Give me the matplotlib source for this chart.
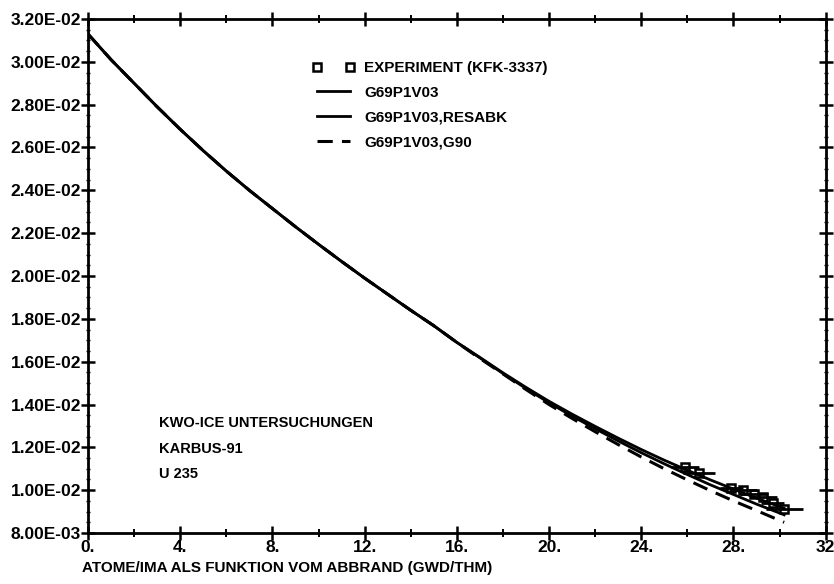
import numpy as np
import matplotlib
matplotlib.use("Agg")
import matplotlib.pyplot as plt
from matplotlib.ticker import MultipleLocator, FixedLocator

plt.rcParams['font.family'] = ['Liberation Sans', 'DejaVu Sans']
plt.rcParams['font.weight'] = 'bold'

# burnup (GWD/THM)
burnup = [0, 1, 2, 3, 4, 5, 6, 7, 8, 9, 10, 11, 12, 13, 14, 15, 16,
          17, 18, 19, 20, 21, 22, 23, 24, 25, 26, 27, 28, 29, 30.2]
g69 = [0.03130, 0.03010, 0.02900, 0.02790, 0.02685, 0.02585, 0.02490,
       0.02400, 0.02315, 0.02230, 0.02148, 0.02068, 0.01990, 0.01915,
       0.01840, 0.01768, 0.01690, 0.01620, 0.01548, 0.01480, 0.01415,
       0.01355, 0.01298, 0.01243, 0.01190, 0.01140, 0.01093, 0.01048,
       0.01005, 0.00963, 0.00915]
g69_resabk = [0.03130, 0.03010, 0.02900, 0.02790, 0.02685, 0.02585, 0.02490,
              0.02400, 0.02315, 0.02230, 0.02148, 0.02068, 0.01990, 0.01915,
              0.01840, 0.01768, 0.01690, 0.01618, 0.01545, 0.01475, 0.01408,
              0.01346, 0.01287, 0.01230, 0.01175, 0.01123, 0.01073, 0.01025,
              0.00980, 0.00935, 0.00885]
g69_g90 = [0.03130, 0.03010, 0.02900, 0.02790, 0.02685, 0.02585, 0.02490,
           0.02400, 0.02315, 0.02230, 0.02148, 0.02068, 0.01990, 0.01915,
           0.01840, 0.01768, 0.01690, 0.01615, 0.01543, 0.01470, 0.01400,
           0.01335, 0.01273, 0.01213, 0.01155, 0.01100, 0.01048, 0.00998,
           0.00950, 0.00905, 0.00850]

# experiment (KFK-3337)
exp_x = [25.9, 26.5, 27.9, 28.4, 28.9, 29.3, 29.7, 30.2]
exp_y = [0.0111, 0.0108, 0.0101, 0.0100, 0.0098, 0.0097, 0.0094, 0.0091]
exp_xerr = [0.6, 0.7, 0.5, 0.6, 0.6, 0.6, 0.5, 0.8]

xtick_vals = [0, 4, 8, 12, 16, 20, 24, 28, 32]
xtick_labels = ['0.', '4.', '8.', '12.', '16.', '20.', '24.', '28.', '32']
ytick_vals = [0.008 + 0.002 * i for i in range(13)]
ytick_labels = ['8.00E-03'] + ['%.2fE-02' % (v * 100) for v in ytick_vals[1:]]

info_lines = ['KWO-ICE UNTERSUCHUNGEN', 'KARBUS-91', 'U 235']

fig = plt.figure(figsize=(8.34, 5.84), dpi=100)
ax = fig.add_axes([0.1055, 0.0873, 0.8845, 0.8802])

ax.plot(burnup, g69, '-k', lw=2.0, label='G69P1V03')
ax.plot(burnup, g69_resabk, '-k', lw=2.0, label='G69P1V03,RESABK')
ax.plot(burnup, g69_g90, '--k', lw=2.2, dashes=(5, 3), label='G69P1V03,G90')
ax.errorbar(exp_x, exp_y, xerr=exp_xerr, fmt='none', ecolor='k',
            elinewidth=2.0, capsize=0)
ax.plot(exp_x, exp_y, 's', mfc='none', mec='k', ms=6, mew=1.8,
        label='EXPERIMENT (KFK-3337)')

ax.set_xlim(0, 32)
ax.set_ylim(0.008, 0.032)
ax.xaxis.set_major_locator(FixedLocator(xtick_vals))
ax.set_xticklabels(xtick_labels)
ax.xaxis.set_minor_locator(MultipleLocator(2))
ax.yaxis.set_major_locator(FixedLocator(ytick_vals))
ax.set_yticklabels(ytick_labels)
ax.yaxis.set_minor_locator(MultipleLocator(0.0005))
ax.tick_params(which='major', direction='inout', length=10, width=1.8,
               top=True, right=True, labelsize=12.5, pad=0)
ax.tick_params(which='minor', direction='inout', length=6, width=1.4,
               top=True, right=True)
ax.tick_params(axis='y', which='minor', length=3, width=1.0)
for lab in ax.get_xticklabels() + ax.get_yticklabels():
    lab.set_fontweight('bold')
for s in ax.spines.values():
    s.set_linewidth(2.0)

handles, labels = ax.get_legend_handles_labels()
order = [3, 0, 1, 2]
leg = ax.legend([handles[i] for i in order], [labels[i] for i in order],
                loc='upper left', bbox_to_anchor=(0.285, 0.945), frameon=False,
                numpoints=2, handlelength=2.8, handletextpad=0.6,
                labelspacing=0.7, prop={'size': 11, 'weight': 'bold'})

for i, t in enumerate(info_lines):
    ax.text(3.1, 0.01314 - i * 0.00120, t, fontsize=10.5, fontweight='bold',
            va='center', ha='left')

fig.text(0.098, 0.028, 'ATOME/IMA ALS FUNKTION VOM ABBRAND (GWD/THM)',
         fontsize=11, fontweight='bold', ha='left', va='center')

fig.savefig('out.png', dpi=100)
